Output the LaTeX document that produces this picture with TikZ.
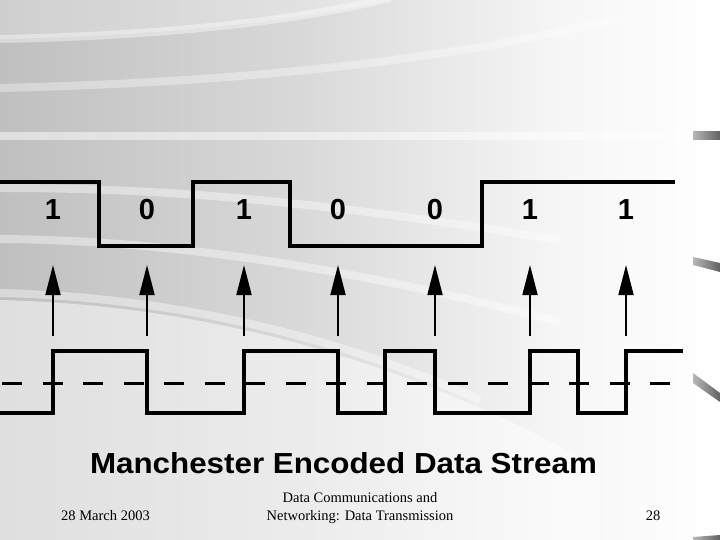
\documentclass[tikz,border=0pt]{standalone}
\usepackage{fontspec}
\setmainfont{Liberation Serif}
\newfontfamily\arialf{Liberation Sans}
\usetikzlibrary{arrows.meta}
\definecolor{bgA}{gray}{0.75}
\definecolor{bgB}{gray}{0.85}
\definecolor{bgC}{gray}{0.965}
\definecolor{bgD}{gray}{1.0}
\definecolor{mkA}{gray}{0.72}
\definecolor{mkB}{gray}{0.38}
\begin{document}
\begin{tikzpicture}[x=1pt,y=-1pt,
  wave/.style={line width=3.5pt, line join=miter},
  midline/.style={line width=3pt, dash pattern=on 20pt off 20.5pt},
  clk/.style={line width=1.8pt, -{Triangle[length=30pt,width=15pt]}},
  bit/.style={inner sep=0pt, anchor=base, font=\fontsize{29}{30}\selectfont\arialf\bfseries},
  band/.style={white, opacity=0.4, line width=8pt},
  edgemark/.style={left color=mkA, right color=mkB},
  foot/.style={font=\fontsize{14.5}{17}\selectfont, inner sep=0pt, anchor=base}
]
\useasboundingbox (0,0) rectangle (720,540);
% background
\shade[left color=bgA, right color=bgB] (0,0) rectangle (300,540);
\shade[left color=bgB, right color=bgC] (300,0) rectangle (560,540);
\shade[left color=bgC, right color=bgD] (560,0) rectangle (720,540);
\begin{scope}
\clip (0,0) rectangle (720,540);
\fill[white, opacity=0.5] (0,300) .. controls (130,303) and (300,328) .. (480,408) -- (480,540) -- (0,540) -- cycle;
\fill[white, opacity=0.5] (480,408) .. controls (520,425) and (560,445) .. (600,470) -- (600,540) -- (480,540) -- cycle;
\fill[white, opacity=0.25] (0,0) -- (390,0) .. controls (320,15) and (200,35) .. (0,39) -- cycle;
\draw[band] (0,39) .. controls (200,35) and (320,15) .. (390,-2);
\draw[band, opacity=0.35] (0,88) .. controls (250,82) and (450,60) .. (620,18);
\draw[band, opacity=0.5] (0,136) -- (690,136);
\draw[band] (0,188) .. controls (150,188) and (300,198) .. (560,240);
\draw[band] (0,239) .. controls (150,240) and (330,262) .. (560,322);
\draw[band] (0,293) .. controls (130,296) and (300,320) .. (480,400);
\end{scope}
% right-edge marks
\shade[edgemark] (693,132) -- (720,132) -- (720,140) -- (693,140) -- cycle;
\shade[edgemark] (693,257) -- (720,263) -- (720,272) -- (693,265) -- cycle;
\shade[edgemark] (693,373) -- (720,393) -- (720,402) -- (693,383) -- cycle;
\shade[edgemark] (693,537) -- (720,535) -- (720,540) -- (693,540) -- cycle;
% NRZ waveform
\draw[wave] (0,182) -- (99,182) -- (99,246) -- (193,246) -- (193,182) -- (290,182)
  -- (290,246) -- (482,246) -- (482,182) -- (675,182);
% bit labels and sampling arrows
\foreach \n/\x/\b in {1/53/1, 2/147/0, 3/244/1, 4/338/0, 5/435/0, 6/530/1, 7/626/1} {
  \node[bit] (b\n) at (\x,220) {\b};
  \coordinate (h\n) at (\x,265);
  \coordinate (t\n) at (\x,336);
  \draw[clk] (t\n) -- (h\n);
}
% midline
\draw[midline] (2,383) -- (672,383);
% Manchester waveform
\draw[wave] (0,413) -- (53,413) -- (53,351) -- (147,351) -- (147,413) -- (244,413)
  -- (244,351) -- (338,351) -- (338,413) -- (385,413) -- (385,351) -- (435,351)
  -- (435,413) -- (530,413) -- (530,351) -- (578,351) -- (578,413) -- (626,413)
  -- (626,351) -- (683,351);
% title
\node[inner sep=0pt, anchor=base] (title) at (343.5,473.5) {\resizebox{507pt}{21pt}{\arialf\bfseries Manchester Encoded Data Stream}};
% footer
\node[foot, anchor=base west] (date) at (61,520) {28 March 2003};
\node[foot] (course1) at (360,502) {Data Communications and};
\node[foot] (course2) at (360,520) {Networking: Data Transmission};
\node[foot] (page) at (653,520) {28};
\end{tikzpicture}
\end{document}
